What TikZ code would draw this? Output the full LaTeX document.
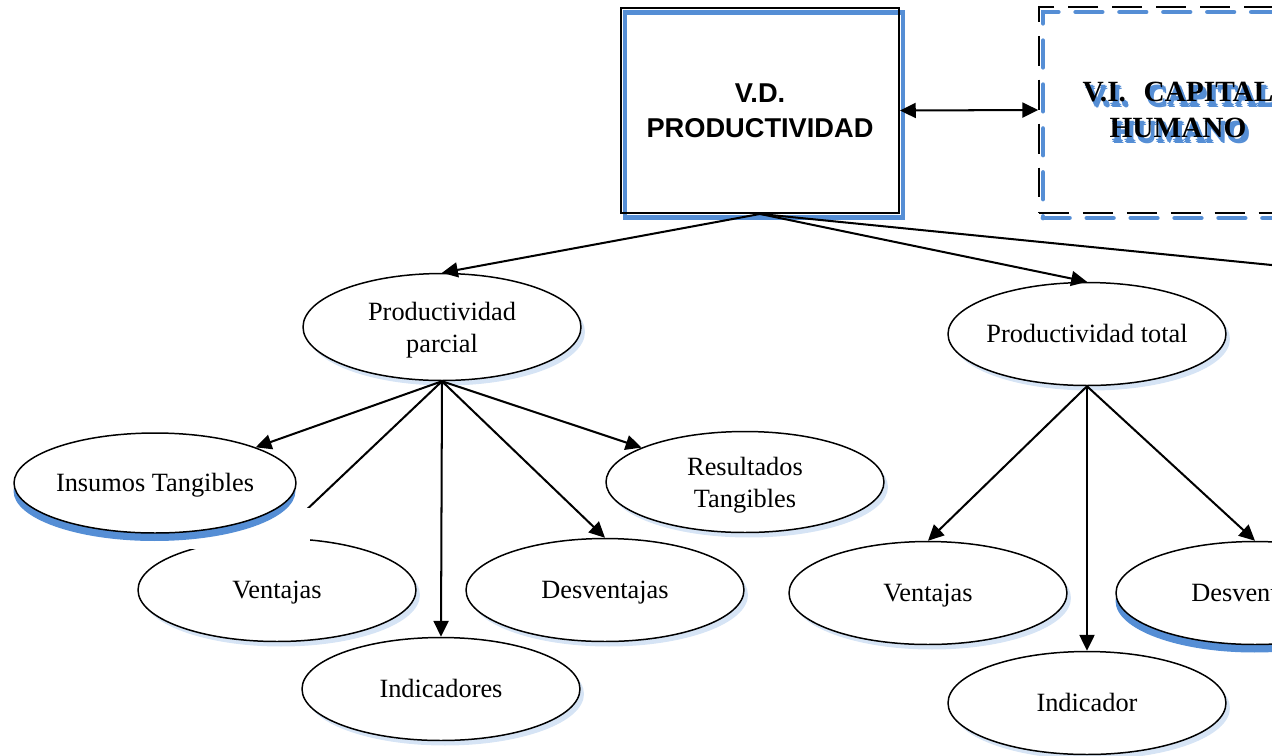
\documentclass[tikz,border=0pt]{standalone}
\usepackage{fontspec}
\setmainfont{Liberation Serif}
\newfontfamily\arialf{Liberation Sans}
\usetikzlibrary{shapes.geometric,arrows.meta,shadows}
\definecolor{shBlue}{RGB}{85,142,213}
\definecolor{shLight}{RGB}{214,228,245}
\begin{document}
\begin{tikzpicture}[x=0.02cm,y=-0.02cm,
  ell/.style={ellipse, draw, line width=0.85pt, fill=white, inner sep=0pt,
    minimum width=5.56cm, minimum height=2.06cm},
  faint/.style={general shadow={fill=shLight, shadow xshift=0.08cm, shadow yshift=-0.1cm}},
  solidsh/.style={general shadow={fill=shBlue, shadow xshift=-0.01cm, shadow yshift=-0.16cm}},
  lab/.style={font=\fontsize{15}{18.2}\selectfont, align=center, inner sep=0pt},
  lab1/.style={font=\fontsize{15}{18.2}\selectfont, inner sep=0pt, text height=0.92em, text depth=0pt},
  conn/.style={line width=1.15pt, -{Triangle[length=9pt,width=8.5pt]}},
  dbl/.style={line width=1.15pt, {Triangle[length=9pt,width=8.5pt]}-{Triangle[length=9pt,width=8.5pt]}},
  plain/.style={line width=1.15pt},
  vdbox/.style={rectangle, draw, line width=1.1pt, inner sep=0pt,
    minimum width=5.56cm, minimum height=4.1cm,
    general shadow={draw=shBlue, line width=2.8pt, shadow xshift=0.08cm, shadow yshift=-0.09cm}},
  vibox/.style={rectangle, draw, line width=0.9pt, dash pattern=on 17pt off 8pt, inner sep=0pt,
    minimum width=5.56cm, minimum height=4.12cm,
    general shadow={draw=shBlue, line width=2.8pt, line cap=round, dash pattern=on 15pt off 10pt,
      shadow xshift=0.08cm, shadow yshift=-0.1cm}},
  vdtext/.style={font=\arialf\bfseries\fontsize{15.5}{20}\selectfont, align=center, inner sep=0pt},
  vitext/.style={font=\bfseries\fontsize{16.7}{20.5}\selectfont, align=center, inner sep=0pt},
  vishadow/.style={vitext, text=shBlue}
]
\useasboundingbox (0,0) rectangle (1272,755);
\begin{scope}
\clip (0,0) rectangle (1272,755);

% top boxes
\node[vdbox] (vd) at (760,110.5) {};
\node[vdtext] (vdt) at (vd) {V.D.\\PRODUCTIVIDAD};
\node[vibox] (vi) at (1178,110) {};
\node[vishadow] (vis1) at ([shift={(2,3)}]vi.center) {V.I.\hspace{0.6em}CAPITAL\\HUMANO};
\node[vishadow] (vis2) at ([shift={(3.5,4)}]vi.center) {V.I.\hspace{0.6em}CAPITAL\\HUMANO};
\node[vishadow] (vis3) at ([shift={(2.5,5)}]vi.center) {V.I.\hspace{0.6em}CAPITAL\\HUMANO};
\node[vishadow] (vis4) at ([shift={(4,5.5)}]vi.center) {V.I.\hspace{0.6em}CAPITAL\\HUMANO};
\node[vitext] (vit) at (vi) {V.I.\hspace{0.6em}CAPITAL\\HUMANO};
\draw[dbl] (vd.east) -- (vi.west);

% ellipses
\node[ell, faint, minimum height=2.14cm] (pp) at (442,327) {};
\node[lab] (ppt) at ([shift={(0,3)}]pp.center) {Productividad\\parcial};
\node[ell, faint] (pt) at (1087,334) {};
\node[lab1] (ptt) at (pt) {Productividad total};
\node[ell, faint, minimum height=2.02cm] (rt) at (745,482) {};
\node[lab] (rtt) at ([shift={(0,3)}]rt.center) {Resultados\\Tangibles};
\node[ell, faint] (vl) at (277,590) {};
\node[lab1] (vlt) at (vl) {Ventajas};
\node[ell, faint] (dl) at (605,590) {};
\node[lab1] (dlt) at (dl) {Desventajas};
\node[ell, faint] (il) at (441,689) {};
\node[lab1] (ilt) at (il) {Indicadores};
\node[ell, faint] (vr) at (928,593) {};
\node[lab1] (vrt) at (vr) {Ventajas};
\node[ell, faint] (ir) at (1087,703) {};
\node[lab1] (irt) at (ir) {Indicador};
\node[ell, solidsh] (dr) at (1255,593) {};
\node[lab1] (drt) at (dr) {Desventajas};

% connectors
\coordinate (offr) at (1402,278);
\draw[conn] (vd.south) -- (pp.north);
\draw[conn] (vd.south) -- (pt.north);
\draw[plain] (vd.south) -- (offr);

\draw[conn] (pp.south) -- (rt);
\draw[conn] (pp.south) -- (vl.north);
\draw[conn] (pp.south) -- (il.north);
\draw[conn] (pp.south) -- (dl.north);

\draw[conn] (pt.south) -- (vr.north);
\draw[conn] (pt.south) -- (ir.north);
\draw[conn] (pt.south) -- (dr.north);

% white patch hiding part of the Ventajas link
\fill[white] (183,508) rectangle (310,549);

\node[ell, solidsh, minimum width=5.64cm, minimum height=2.0cm] (it) at (155,483) {};
\node[lab1] (itt) at (it) {Insumos Tangibles};
\draw[conn] (pp.south) -- (it);
\end{scope}
\end{tikzpicture}
\end{document}
